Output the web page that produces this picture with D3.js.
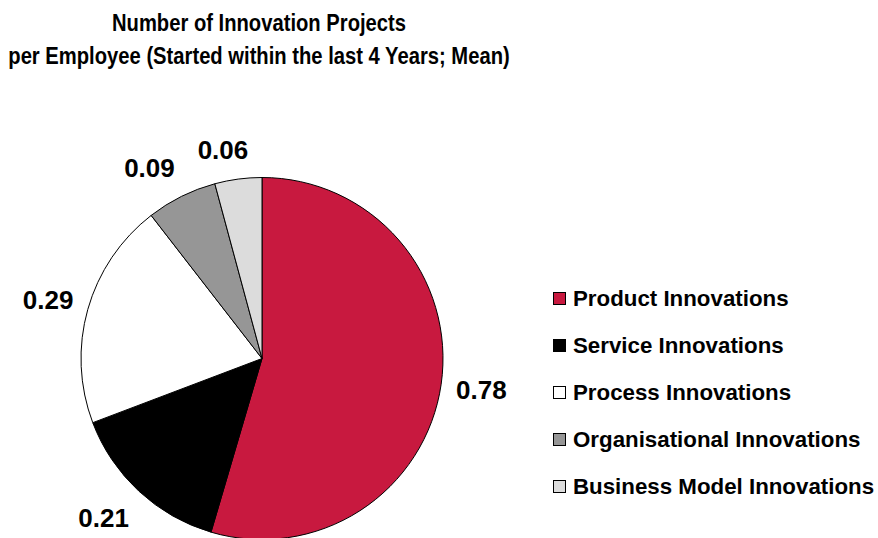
<!DOCTYPE html>
<html>
<head>
<meta charset="utf-8">
<script src="https://cdn.jsdelivr.net/npm/d3@7"></script>
<style>
  html, body { margin: 0; padding: 0; background: #fff; }
  svg { display: block; font-family: Arial, "Liberation Sans", Helvetica, sans-serif; }
</style>
</head>
<body>
<svg id="chart" width="878" height="538"></svg>
<script>
// Mean number of innovation projects per employee, by type
const categories = [
  "Product Innovations",
  "Service Innovations",
  "Process Innovations",
  "Organisational Innovations",
  "Business Model Innovations"
];
const values = [0.78, 0.21, 0.29, 0.09, 0.06];
const valueLabels = ["0.78", "0.21", "0.29", "0.09", "0.06"];
const sliceColors = ["#C8193F", "#000000", "#FFFFFF", "#969696", "#DCDCDC"];
const titleLines = [
  "Number of Innovation Projects",
  "per Employee (Started within the last 4 Years; Mean)"
];

const svg = d3.select("#chart");

// Title: bold, slightly condensed
const titleX = 259, titleScaleX = 0.86;
svg.append("g")
  .attr("transform", `translate(${titleX},0) scale(${titleScaleX},1)`)
  .selectAll("text")
  .data(titleLines)
  .join("text")
  .attr("x", 0)
  .attr("y", (d, i) => 31 + i * 33)
  .attr("text-anchor", "middle")
  .attr("font-size", 23.5)
  .attr("font-weight", "bold")
  .attr("fill", "#000")
  .text(d => d);

// Pie
const cx = 262, cy = 358.5, R = 181;
const data = categories.map((c, i) => ({ name: c, value: values[i], label: valueLabels[i], color: sliceColors[i] }));

const pie = d3.pie().sort(null).value(d => d.value).startAngle(0).endAngle(2 * Math.PI);
const arcs = pie(data);
const arc = d3.arc().innerRadius(0).outerRadius(R);

const g = svg.append("g").attr("transform", `translate(${cx},${cy})`);

g.selectAll("path")
  .data(arcs)
  .join("path")
  .attr("d", arc)
  .attr("fill", d => d.data.color)
  .attr("stroke", "#000")
  .attr("stroke-width", 1)
  .attr("stroke-linejoin", "round");

// Value labels: anchored just outside the rim at each slice's mid-angle,
// with the label box pushed away from the pie.
const labelGap = 15;
const labels = g.selectAll("text.val")
  .data(arcs)
  .join("text")
  .attr("class", "val")
  .attr("text-anchor", "middle")
  .attr("font-size", 26)
  .attr("font-weight", "bold")
  .attr("fill", "#000")
  .text(d => d.data.label);

labels.each(function(d) {
  const bb = this.getBBox();
  const a = (d.startAngle + d.endAngle) / 2;
  const s = Math.sin(a), c = -Math.cos(a);
  const clamp = v => Math.max(-1, Math.min(1, v));
  const px = (R + labelGap) * s + (bb.width / 2) * clamp(s * 4);
  const py = (R + labelGap) * c + (bb.height / 2) * clamp(c * 1.5);
  d3.select(this)
    .attr("x", px)
    .attr("y", py)
    .attr("dy", "0.36em");
});

// Legend
const legendY = d3.scalePoint().domain(categories).range([298, 486]);
const legend = svg.append("g");
const items = legend.selectAll("g")
  .data(data)
  .join("g")
  .attr("transform", d => `translate(553,${legendY(d.name)})`);

items.append("rect")
  .attr("x", 0.5)
  .attr("y", -5.5)
  .attr("width", 12)
  .attr("height", 12)
  .attr("fill", d => d.color)
  .attr("stroke", "#000")
  .attr("stroke-width", 1);

items.append("text")
  .attr("x", 20)
  .attr("dy", "0.36em")
  .attr("font-size", 22.3)
  .attr("font-weight", "bold")
  .attr("fill", "#000")
  .text(d => d.name);
</script>
</body>
</html>
